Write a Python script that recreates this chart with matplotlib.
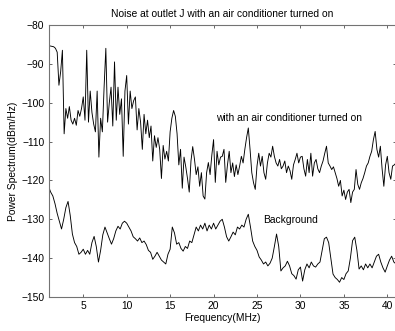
from matplotlib import pyplot as plt
import numpy as np

plt.rcParams['font.family'] = ['Liberation Sans', 'DejaVu Sans']

# noise spectrum with the air conditioner on, sampled every 0.2 MHz from 1 to 41 MHz
ac_freq = np.linspace(1, 41, 201)
ac_power = [
    -85.4, -85.4, -85.5, -85.6, -86.0,
    -87.0, -95.5, -92.0, -86.5, -108.0,
    -101.5, -104.0, -101.0, -104.5, -105.5,
    -104.0, -105.8, -102.0, -103.5, -101.5,
    -98.5, -104.5, -86.5, -105.0, -97.0,
    -102.5, -105.5, -107.5, -97.0, -114.0,
    -104.0, -107.5, -96.0, -86.0, -105.0,
    -100.0, -96.0, -106.0, -89.5, -104.5,
    -96.0, -103.0, -99.0, -113.8, -97.0,
    -93.0, -105.5, -97.0, -101.5, -99.5,
    -98.5, -107.0, -101.5, -105.0, -112.0,
    -103.0, -108.0, -104.5, -109.0, -106.0,
    -115.0, -108.5, -111.5, -109.0, -112.0,
    -119.5, -111.0, -114.5, -112.5, -115.0,
    -107.5, -104.0, -102.0, -103.5, -108.0,
    -116.0, -112.0, -122.0, -114.0, -116.5,
    -119.5, -123.0, -115.0, -111.3, -114.5,
    -118.5, -116.5, -121.5, -118.0, -124.0,
    -124.8, -118.0, -115.4, -118.5, -113.5,
    -109.5, -120.5, -112.5, -116.0, -114.0,
    -113.8, -112.0, -120.5, -116.0, -112.5,
    -118.0, -115.5, -119.0, -116.0, -118.5,
    -116.3, -113.8, -115.5, -112.0, -109.0,
    -106.5, -112.0, -118.0, -120.6, -122.3,
    -116.3, -113.0, -116.3, -113.8, -118.0,
    -119.7, -115.5, -113.0, -114.0, -111.2,
    -113.8, -115.5, -116.3, -114.6, -117.0,
    -116.3, -115.0, -118.0, -116.3, -117.5,
    -119.7, -116.0, -114.6, -113.0, -115.5,
    -114.0, -113.8, -117.0, -118.9, -114.6,
    -118.0, -113.0, -118.9, -115.5, -114.6,
    -117.0, -118.0, -116.3, -115.0, -113.0,
    -111.2, -115.5, -116.3, -117.2, -116.5,
    -118.0, -119.5, -121.5, -120.0, -124.0,
    -122.5, -124.9, -123.0, -122.3, -125.7,
    -123.0, -122.3, -117.2, -121.0, -122.3,
    -120.6, -119.5, -118.0, -116.3, -115.5,
    -113.8, -112.5, -109.5, -107.4, -112.0,
    -114.0, -111.2, -117.0, -121.5, -116.0,
    -113.8, -118.0, -119.7, -116.3, -116.0,
    -115.5,
]

# background noise, sampled every 0.25 MHz
bg_freq = np.linspace(1, 41, 161)
bg_power = [
    -121.5, -123, -124, -126,
    -128.5, -130.5, -132.5, -130,
    -127, -125.4, -129, -133.8,
    -136, -137, -139, -138.5,
    -137.7, -139, -138, -139,
    -136, -134.4, -137, -141,
    -138, -134, -132, -133.5,
    -135, -136.4, -135, -133,
    -131.8, -132.5, -131, -130.5,
    -131, -132, -133, -134.5,
    -135, -135.6, -134.8, -136,
    -135.6, -136.5, -138, -138.5,
    -140.3, -139.5, -138.5, -139.5,
    -140.5, -141, -141.5, -139,
    -137.7, -132, -133.5, -136.4,
    -136, -137.5, -138.2, -137,
    -137.5, -135.6, -136, -134,
    -132, -133, -131.5, -132.5,
    -131, -133, -131.5, -132.5,
    -131, -132.5, -131.5, -130.5,
    -130, -132, -134.5, -135.6,
    -134.5, -133.3, -134, -132,
    -132.5, -131.5, -132, -130,
    -128.7, -132, -135.6, -137,
    -138, -139.7, -140.5, -141.5,
    -141, -142, -141.3, -140,
    -137, -133.8, -137, -143.3,
    -142.5, -142, -140.8, -142,
    -144, -144.5, -145.4, -143,
    -142.3, -145.9, -143, -141.5,
    -142.5, -141, -142, -142.3,
    -141.5, -141, -138, -135,
    -134.6, -136, -140, -144.1,
    -145, -145.5, -146.2, -145,
    -145.5, -144, -143.3, -140,
    -135.5, -134.6, -138, -142.8,
    -142, -143, -141.5, -142.5,
    -141.5, -142.5, -141, -139.5,
    -139, -141, -142.5, -143.6,
    -142, -140.5, -139.5, -141,
    -141.5,
]

x_ticks = [5, 10, 15, 20, 25, 30, 35, 40]
y_ticks = [-150, -140, -130, -120, -110, -100, -90, -80]

fig = plt.figure(figsize=(3.95, 3.31), dpi=100)
ax = fig.add_axes([48.5 / 395, 34 / 331, 347.5 / 395, 272 / 331])

ax.plot(ac_freq, ac_power, color='k', lw=0.65)
ax.plot(bg_freq, bg_power, color='k', lw=0.65)

ax.text(20.3, -104, 'with an air conditioner turned on', fontsize=7.4, va='center')
ax.text(25.7, -130.3, 'Background', fontsize=7.4, va='center')

ax.set_xlim(1, 41)
ax.set_ylim(-150, -80)
ax.set_xticks(x_ticks)
ax.set_yticks(y_ticks)
ax.tick_params(direction='in', length=2.5, width=0.6, labelsize=7.4, top=True, right=True,
               color='0.3', pad=3)
for s in ax.spines.values():
    s.set_color('0.45')
    s.set_linewidth(0.8)

ax.set_title('Noise at outlet J with an air conditioner turned on', fontsize=7.4, pad=6)
ax.set_xlabel('Frequency(MHz)', fontsize=7.4, labelpad=1)
ax.set_ylabel('Power Spectrum(dBm/Hz)', fontsize=7.4, labelpad=2)

fig.savefig('out.png', dpi=100)
